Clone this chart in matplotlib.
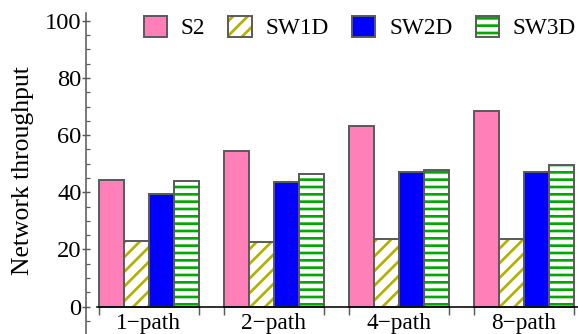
import matplotlib
matplotlib.use('Agg')
import matplotlib.pyplot as plt
import numpy as np
from matplotlib.patches import Patch
from matplotlib.legend_handler import HandlerTuple

# throughput per scheme, one value per path count
paths = ['1\u2212path', '2\u2212path', '4\u2212path', '8\u2212path']
s2   = [44.3, 54.3, 63.2, 68.4]
sw1d = [23.0, 22.7, 23.6, 23.6]
sw2d = [39.3, 43.6, 47.2, 47.2]
sw3d = [43.8, 46.4, 47.9, 49.7]
series_names = ['S2', 'SW1D', 'SW2D', 'SW3D']

plt.rcParams['font.family'] = 'Liberation Serif'
plt.rcParams['hatch.linewidth'] = 2.2

edge = '#5a5a5a'
pink = '#ff80b8'
olive = '#b3b000'
blue = '#0000ff'
green = '#00a800'

fig = plt.figure(figsize=(578/88, 334/88), dpi=88)
ax = fig.add_axes([86/578, 0, 492/578, 321/334])

groups = np.arange(len(paths)) * 5.0
lw = 1.6

# solid bars
ax.bar(groups + 0.5, s2, width=1, color=pink, edgecolor=edge, linewidth=lw)
ax.bar(groups + 2.5, sw2d, width=1, color=blue, edgecolor=edge, linewidth=lw)
# hatched bars: hatch layer first, grey outline on top
ax.bar(groups + 1.5, sw1d, width=1, color='white', edgecolor=olive, hatch='//', linewidth=0)
ax.bar(groups + 1.5, sw1d, width=1, fill=False, edgecolor=edge, linewidth=lw)
ax.bar(groups + 3.5, sw3d, width=1, color='white', edgecolor=green, hatch='--', linewidth=0)
ax.bar(groups + 3.5, sw3d, width=1, fill=False, edgecolor=edge, linewidth=lw)

ax.set_xlim(-0.508, 19.17)
ax.set_ylim(-9.55, 102.7)

for s in ['top', 'right']:
    ax.spines[s].set_visible(False)
ax.spines['left'].set_color(edge)
ax.spines['left'].set_linewidth(1.3)
ax.spines['bottom'].set_position(('data', 0))
ax.spines['bottom'].set_bounds(-0.08, 19.17)
ax.spines['bottom'].set_color('black')
ax.spines['bottom'].set_linewidth(1.3)

ax.set_yticks([0, 20, 40, 60, 80, 100])
ax.set_yticks(np.arange(-5, 101, 5), minor=True)
ax.tick_params(axis='y', which='major', direction='inout', length=6.5, width=1.2,
               color=edge, labelsize=20, pad=0.3)
ax.tick_params(axis='y', which='minor', direction='in', length=3.3, width=1.0, color=edge)

ax.set_xticks(groups + 2)
ax.set_xticklabels(paths)
ax.set_xticks(np.concatenate([groups, groups + 4]), minor=True)
ax.tick_params(axis='x', which='major', length=0, labelsize=19, pad=5.5)
ax.tick_params(axis='x', which='minor', direction='out', length=6.5, width=1.2, color=edge)

ax.set_ylabel('Network throughput', fontsize=21)
ax.yaxis.set_label_coords(-0.105, 0.51)

handles = [
    Patch(facecolor=pink, edgecolor=edge, linewidth=lw),
    (Patch(facecolor='white', edgecolor=olive, hatch='//', linewidth=0),
     Patch(fill=False, edgecolor=edge, linewidth=lw)),
    Patch(facecolor=blue, edgecolor=edge, linewidth=lw),
    (Patch(facecolor='white', edgecolor=green, hatch='--', linewidth=0),
     Patch(fill=False, edgecolor=edge, linewidth=lw)),
]
fig.legend(handles, series_names, loc='upper right', bbox_to_anchor=(1 - 2/578, 1 - 16/334),
           ncol=4, frameon=False, fontsize=19, handlelength=1.0, handleheight=1.0,
           handletextpad=0.6, columnspacing=1.0, borderpad=0, borderaxespad=0,
           handler_map={tuple: HandlerTuple(ndivide=1)})

fig.savefig('out.png', dpi=88)
